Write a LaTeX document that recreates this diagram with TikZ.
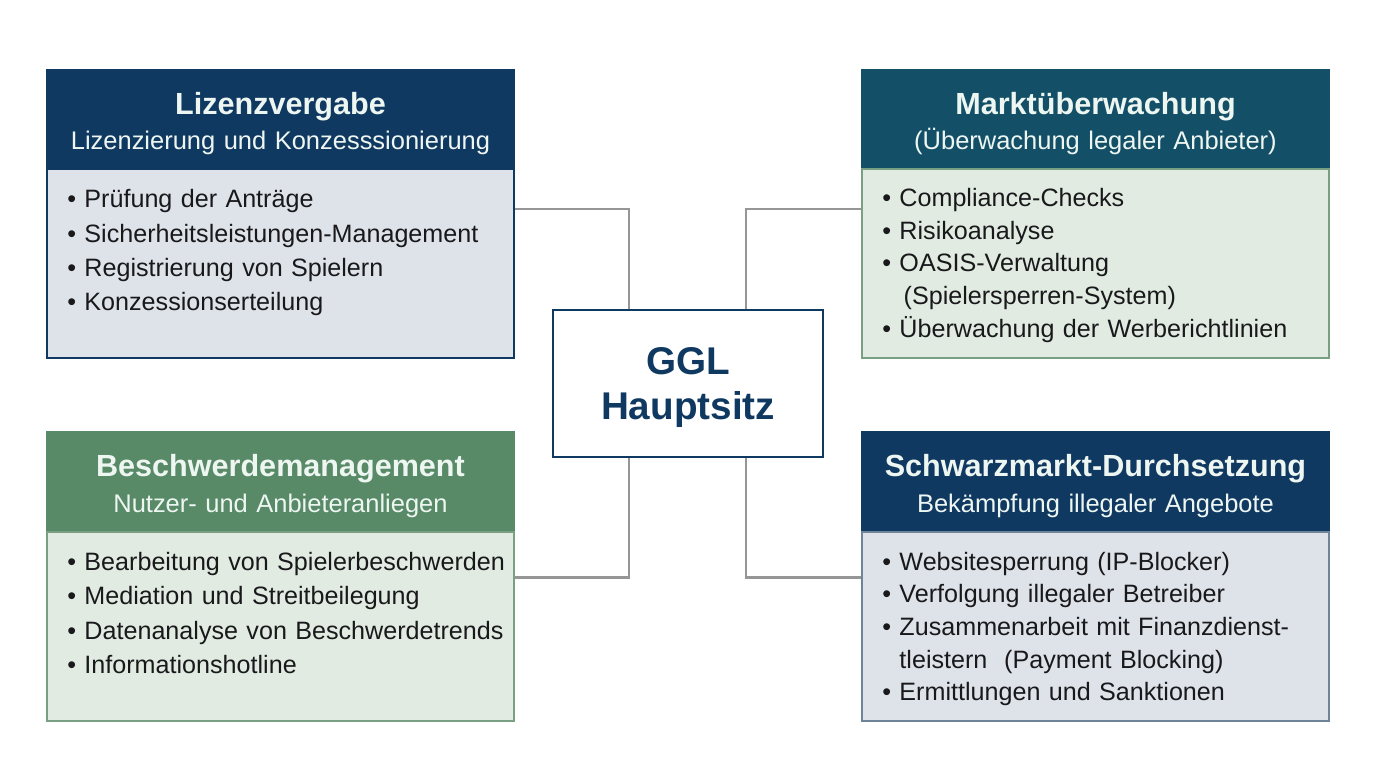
\documentclass[tikz,border=0pt]{standalone}
\usepackage{fontspec}
\setmainfont{Liberation Sans}
\usetikzlibrary{positioning, calc}
\definecolor{mynavy}{RGB}{16,57,97}
\definecolor{myteal}{RGB}{19,80,104}
\definecolor{mygreen}{RGB}{88,138,104}
\definecolor{bodyblue}{RGB}{222,227,233}
\definecolor{bodygreen}{RGB}{225,235,226}
\definecolor{edgegreen}{RGB}{122,160,132}
\definecolor{edgeblue}{RGB}{112,132,152}
\definecolor{mygray}{RGB}{150,150,150}
\definecolor{mytext}{RGB}{25,25,28}
\definecolor{hdrtext}{RGB}{238,246,242}
\newcommand{\headtitle}[1]{{\fontsize{17.4}{20}\selectfont\bfseries\rule{0pt}{1.06em}#1}}
\tikzset{
  head/.style={rectangle, minimum width=9.34cm, minimum height=1.94cm,
    text width=9.34cm, align=center, text=hdrtext, inner sep=0pt,
    line width=1.2pt, font=\fontsize{14.5}{20}\selectfont},
  navyhead/.style={head, draw=mynavy, fill=mynavy},
  tealhead/.style={head, draw=myteal, fill=myteal},
  greenhead/.style={head, draw=mygreen, fill=mygreen},
  body/.style={rectangle, minimum width=9.34cm, minimum height=3.78cm,
    inner sep=0pt, line width=1.2pt},
  bluebody/.style={body, draw=mynavy, fill=bodyblue},
  greenbody/.style={body, draw=edgegreen, fill=bodygreen},
  greybody/.style={body, draw=edgeblue, fill=bodyblue},
  listtext/.style={anchor=north west, text width=10cm, align=left,
    inner sep=0pt, text=mytext, font=\fontsize{14.3}{19.6}\selectfont},
  longlist/.style={listtext, font=\fontsize{14.3}{18.6}\selectfont},
  hub/.style={rectangle, draw=mynavy, fill=white, line width=1.5pt,
    minimum width=5.4cm, minimum height=2.94cm, align=center, text=mynavy,
    font=\fontsize{22}{25.6}\selectfont\bfseries},
  conn/.style={draw=mygray, line width=1.4pt}
}

\begin{document}
\begin{tikzpicture}
  \useasboundingbox (0,0) rectangle (27.52,15.36);

  \node[hub] (hq) at (13.76,7.69) {\rule{0pt}{0.92em}GGL\\Hauptsitz};

  \node[navyhead] (lizhead) at (5.61,12.99)
    {\headtitle{Lizenzvergabe}\\Lizenzierung und Konzesssionierung};
  \node[bluebody, below=0pt of lizhead] (lizbody) {};
  \node[listtext] (lizlist) at ([xshift=0.42cm, yshift=-0.42cm]lizbody.north west)
    {\textbullet\ Prüfung der Anträge\\
     \textbullet\ Sicherheitsleistungen-Management\\
     \textbullet\ Registrierung von Spielern\\
     \textbullet\ Konzessionserteilung};

  \node[tealhead] (markthead) at (21.91,12.99)
    {\headtitle{Marktüberwachung}\\(Überwachung legaler Anbieter)};
  \node[greenbody, below=0pt of markthead] (marktbody) {};
  \node[longlist] (marktlist) at ([xshift=0.42cm, yshift=-0.4cm]marktbody.north west)
    {\textbullet\ Compliance-Checks\\
     \textbullet\ Risikoanalyse\\
     \textbullet\ OASIS-Verwaltung\\
     \hphantom{\textbullet\ }\,(Spielersperren-System)\\
     \textbullet\ Überwachung der Werberichtlinien};

  \node[greenhead] (beschhead) at (5.61,5.74)
    {\headtitle{Beschwerdemanagement}\\Nutzer- und Anbieteranliegen};
  \node[greenbody, below=0pt of beschhead] (beschbody) {};
  \node[listtext] (beschlist) at ([xshift=0.42cm, yshift=-0.42cm]beschbody.north west)
    {\textbullet\ Bearbeitung von Spielerbeschwerden\\
     \textbullet\ Mediation und Streitbeilegung\\
     \textbullet\ Datenanalyse von Beschwerdetrends\\
     \textbullet\ Informationshotline};

  \node[navyhead] (schwarzhead) at (21.91,5.74)
    {\headtitle{Schwarzmarkt-Durchsetzung}\\Bekämpfung illegaler Angebote};
  \node[greybody, below=0pt of schwarzhead] (schwarzbody) {};
  \node[longlist] (schwarzlist) at ([xshift=0.42cm, yshift=-0.42cm]schwarzbody.north west)
    {\textbullet\ Websitesperrung (IP-Blocker)\\
     \textbullet\ Verfolgung illegaler Betreiber\\
     \textbullet\ Zusammenarbeit mit Finanzdienst-\\
     \hphantom{\textbullet\ }tleistern\ \ (Payment Blocking)\\
     \textbullet\ Ermittlungen und Sanktionen};

  \draw[conn] ([yshift=-0.82cm]lizbody.north east) -| ([xshift=-1.18cm]hq.north);
  \draw[conn] ([yshift=-0.82cm]marktbody.north west) -| ([xshift=1.16cm]hq.north);
  \draw[conn] ([yshift=-0.94cm]beschbody.north east) -| ([xshift=-1.18cm]hq.south);
  \draw[conn] ([yshift=-0.94cm]schwarzbody.north west) -| ([xshift=1.16cm]hq.south);
\end{tikzpicture}
\end{document}
